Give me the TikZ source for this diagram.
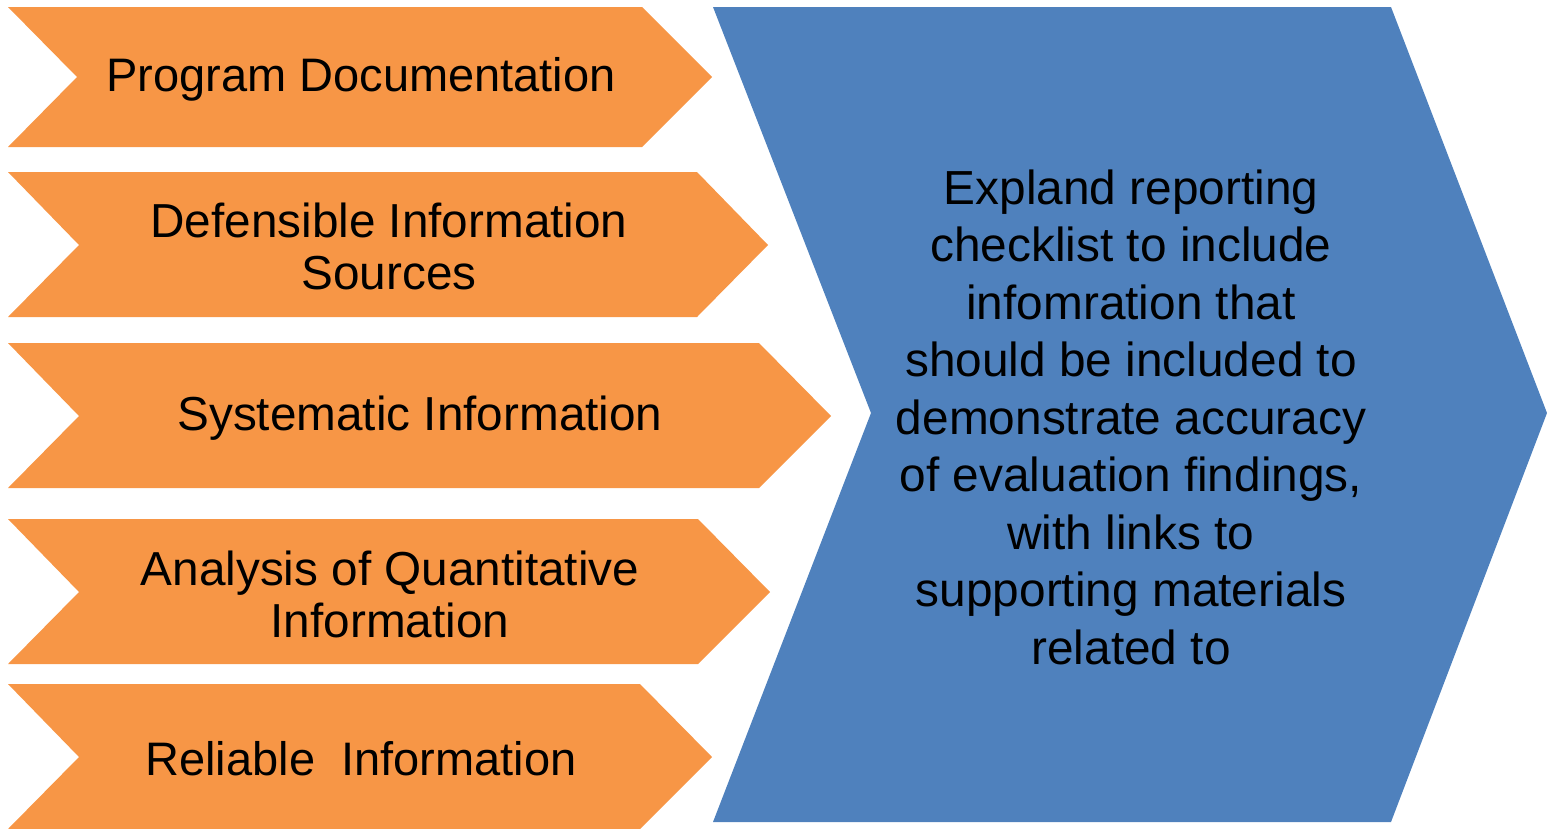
\documentclass[tikz,border=0pt]{standalone}
\usepackage{fontspec}
\setmainfont{Liberation Sans}
\definecolor{chevorange}{HTML}{F79646}
\definecolor{chevblue}{HTML}{4F81BD}
\begin{document}
\begin{tikzpicture}[x=1pt,y=-1pt,
  orangetxt/.style={text=black,align=center,font=\fontsize{47.7}{52}\selectfont,inner sep=0pt},
  orangesmall/.style={orangetxt,font=\fontsize{47}{52}\selectfont},
  bluetxt/.style={text=black,align=center,font=\fontsize{47.8}{57.5}\selectfont,inner sep=0pt}]
\useasboundingbox (0,0) rectangle (1547,828);
% orange chevrons
\fill[chevorange] (8,7) -- (642,7) -- (712,77) -- (642,147) -- (8,147) -- (77,77) -- cycle;
\fill[chevorange] (8,172) -- (697,172) -- (768,245) -- (697,317) -- (8,317) -- (79,245) -- cycle;
\fill[chevorange] (8,343) -- (759,343) -- (831,416) -- (759,488) -- (8,488) -- (79,416) -- cycle;
\fill[chevorange] (8,519) -- (698,519) -- (770,592) -- (698,664) -- (8,664) -- (79,592) -- cycle;
\fill[chevorange] (8,684) -- (640,684) -- (712,757) -- (640,829) -- (8,829) -- (79,757) -- cycle;
% blue chevron
\fill[chevblue] (713,7) -- (1391,7) -- (1547,413) -- (1391,822) -- (713,822) -- (871,413) -- cycle;
% texts
\node[orangesmall] (t1) at (361,79) {Program Documentation};
\node[orangetxt] (t2) at (389,246) {Defensible Information\\Sources};
\node[orangetxt] (t3) at (420,418) {Systematic Information};
\node[orangetxt] (t4) at (390,594) {Analysis of Quantitative\\Information};
\node[orangesmall] (t5) at (361,759) {Reliable\ \ Information};
\node[bluetxt] (tb) at (1131,417) {Expland reporting\\checklist to include\\infomration that\\should be included to\\demonstrate accuracy\\of evaluation findings,\\with links to\\supporting materials\\related to};
\end{tikzpicture}
\end{document}
